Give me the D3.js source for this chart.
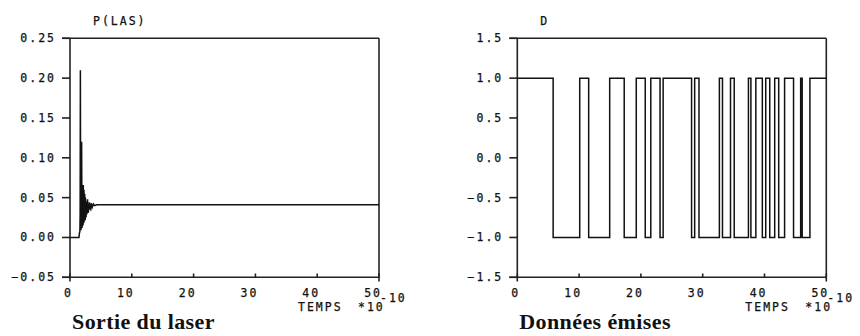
<!DOCTYPE html>
<html><head><meta charset="utf-8">
<script src="https://cdn.jsdelivr.net/npm/d3@7"></script>
<style>
body{margin:0;background:#fff;}
svg{display:block;}
.tk{font-family:"DejaVu Sans Mono",monospace;font-size:11.5px;letter-spacing:2px;fill:#111;stroke:#111;stroke-width:0.25px;}
.cap{font-family:"Liberation Serif",serif;font-weight:bold;font-size:22px;letter-spacing:0.4px;fill:#111;}
</style></head><body>
<script>
// ---- data ----
const pTime = [0,1.45,1.52,1.6,1.64,1.68,1.72,1.76,1.8,1.84,1.88,1.92,1.95,1.99,2.03,2.07,2.11,2.15,2.18,2.22,2.26,2.3,2.34,2.38,2.42,2.46,2.5,2.55,2.6,2.66,2.72,2.78,2.84,2.9,2.97,3.05,3.15,3.25,3.35,3.45,3.6,3.8,4.0,4.3,50];
const pLas  = [0,0,0.005,0.008,0.03,0.21,0.03,0.009,0.012,0.06,0.12,0.05,0.012,0.02,0.045,0.03,0.015,0.066,0.04,0.018,0.06,0.025,0.02,0.055,0.03,0.022,0.05,0.03,0.025,0.045,0.029,0.04,0.048,0.034,0.031,0.038,0.044,0.036,0.035,0.043,0.038,0.042,0.040,0.041,0.041];
const dTime = [0,5.8,10.1,11.55,14.95,17.3,19.25,20.7,21.6,23.1,23.6,28.2,28.7,29.4,32.7,33.2,34.5,35.1,37.4,37.8,38.6,39.65,40.2,40.85,41.65,42.3,43.25,44.7,45.85,46.1,47.35,50];
const dVal  = [1,-1,1,-1,1,-1,1,-1,1,-1,1,-1,1,-1,1,-1,1,-1,1,-1,1,-1,1,-1,1,-1,1,-1,1,-1,1,1];
const xTicks = [0,10,20,30,40,50];
const pTicks = [0.25,0.20,0.15,0.10,0.05,0.00,-0.05];
const dTicks = [1.5,1.0,0.5,0.0,-0.5,-1.0,-1.5];
const titles = ["P(LAS)","D"];
const captions = ["Sortie du laser","Données émises"];

const svg = d3.select("body").append("svg").attr("width",860).attr("height",336);
const LS = 2;

function panel(x0, title, caption, times, vals, yDom, yTicks, fmt, curve){
  const x = d3.scaleLinear().domain([0,50]).range([x0, x0+309]);
  const y = d3.scaleLinear().domain(yDom).range([277.3, 38.3]);
  const g = svg.append("g");
  const c = "#222";
  // frame
  g.append("line").attr("x1",x0-8).attr("x2",x0+309).attr("y1",y(yDom[1])).attr("y2",y(yDom[1])).attr("stroke",c).attr("stroke-width",1.6);
  g.append("line").attr("x1",x0-8).attr("x2",x0+309).attr("y1",y(yDom[0])).attr("y2",y(yDom[0])).attr("stroke",c).attr("stroke-width",1.6);
  g.append("line").attr("x1",x0).attr("x2",x0).attr("y1",38.3).attr("y2",281.5).attr("stroke",c).attr("stroke-width",1.6);
  g.append("line").attr("x1",x0+309).attr("x2",x0+309).attr("y1",38.3).attr("y2",281.5).attr("stroke",c).attr("stroke-width",1.6);
  // y ticks
  yTicks.forEach(v=>{
    g.append("line").attr("x1",x0-8).attr("x2",x0).attr("y1",y(v)).attr("y2",y(v)).attr("stroke",c).attr("stroke-width",1.6);
    g.append("text").attr("class","tk").attr("text-anchor","end").attr("x",x0-16+LS).attr("y",y(v)+4).text(fmt(v));
  });
  // x ticks
  xTicks.forEach(v=>{
    g.append("line").attr("x1",x(v)).attr("x2",x(v)).attr("y1",277.3).attr("y2",273.5).attr("stroke",c).attr("stroke-width",1.6);
    g.append("text").attr("class","tk").attr("text-anchor","end").attr("x",x(v)+1+LS).attr("y",297).text(v);
  });
  g.append("text").attr("class","tk").attr("x",x0+228).attr("y",311).text("TEMPS");
  g.append("text").attr("class","tk").attr("x",x0+288).attr("y",311).text("*10");
  g.append("text").attr("class","tk").attr("x",x0+310).attr("y",302).text("-10");
  g.append("text").attr("class","tk").attr("x",x0+23).attr("y",25).text(title);
  g.append("text").attr("class","cap").attr("x",x0+2).attr("y",329).text(caption);
  // series
  const pts = times.map((t,i)=>[t,vals[i]]);
  g.append("path").datum(pts).attr("fill","none").attr("stroke","#111").attr("stroke-width",1.5)
    .attr("d", d3.line().x(d=>x(d[0])).y(d=>y(d[1])).curve(curve));
}
panel(70, titles[0], captions[0], pTime, pLas, [-0.05,0.25], pTicks, d3.format(".2f"), d3.curveLinear);
panel(517.3, titles[1], captions[1], dTime, dVal, [-1.5,1.5], dTicks, d3.format(".1f"), d3.curveStepAfter);
</script>
</body></html>
